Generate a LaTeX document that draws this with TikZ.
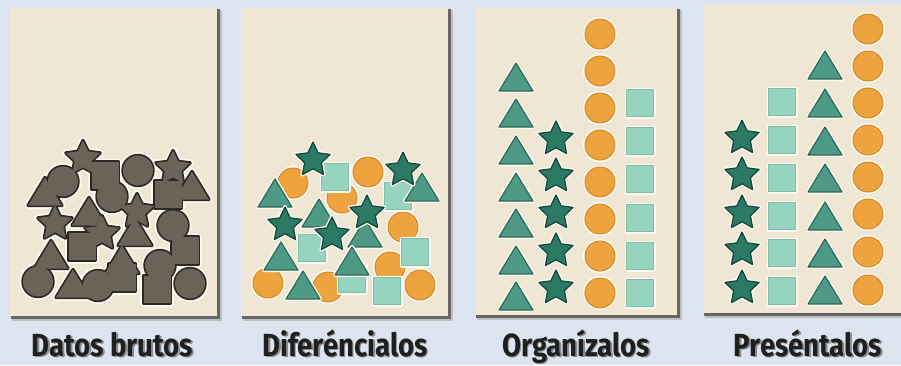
\documentclass[tikz,border=0pt]{standalone}
\usepackage{fontspec}
\newfontfamily\labelfont[FakeStretch=0.86]{Fira Sans}
\definecolor{bgc}{HTML}{DCE5EF}
\definecolor{panelc}{HTML}{EFE6D4}
\definecolor{grayc}{HTML}{6B6258}
\definecolor{grayline}{HTML}{2E2822}
\definecolor{orangec}{HTML}{EDA33E}
\definecolor{orangeline}{HTML}{D2892A}
\definecolor{mintc}{HTML}{97D4BF}
\definecolor{mintline}{HTML}{7DBFA8}
\definecolor{tric}{HTML}{4F9A85}
\definecolor{triline}{HTML}{2C6A58}
\definecolor{starc}{HTML}{2B7A63}
\definecolor{starline}{HTML}{17483A}
\definecolor{haloc}{HTML}{FDFAF2}
\tikzset{
  halo/.style={draw=haloc,line width=4pt,line join=round},
  circsty/.style={fill=orangec,draw=orangeline,line width=1pt},
  sqsty/.style={fill=mintc,draw=mintline,line width=0.8pt},
  tristy/.style={fill=tric,draw=triline,line width=1.2pt,line join=round},
  starsty/.style={fill=starc,draw=starline,line width=1.3pt,line join=round},
  ghalo/.style={draw=haloc,line width=7pt,line join=round},
  gline/.style={draw=grayline,line width=3.4pt,line join=round},
  gfill/.style={fill=grayc,line join=round},
  panelbox/.style={fill=panelc},
  shadowbox/.style={fill=black!60},
  shadowsoft/.style={fill=black!25},
  lbl/.style={font=\labelfont\bfseries\fontsize{32}{34}\selectfont,text=black!88,anchor=base,inner sep=0pt},
  lblshadow/.style={font=\labelfont\bfseries\fontsize{32}{34}\selectfont,text=black!45,anchor=base,inner sep=0pt}
}
\newcommand\dcirc[3]{\path[#1] (#2,#3) circle[radius=15pt];}
\newcommand\dsq[3]{\path[#1] ({#2-13.5},{#3-13.5}) rectangle ({#2+13.5},{#3+13.5});}
\newcommand\dtri[3]{\path[#1] ({#2},{#3-14}) -- ({#2-17},{#3+14}) -- ({#2+17},{#3+14}) -- cycle;}
\newcommand\dstar[3]{\path[#1] (#2,#3) +(-90:18) -- +(-54:8.8) -- +(-18:18) -- +(18:8.8) -- +(54:18) -- +(90:8.8) -- +(126:18) -- +(162:8.8) -- +(198:18) -- +(234:8.8) -- cycle;}
\newcommand\shp[3]{}
\newcommand\one[3]{\csname d#1\endcsname{halo}{#2}{#3}\csname d#1\endcsname{#1sty}{#2}{#3}}
\newcommand\scatter{%
  \shp{circ}{293}{183}\shp{circ}{342}{198}\shp{circ}{368}{172}\shp{circ}{403}{227}%
  \shp{circ}{268}{283}\shp{circ}{328}{287}\shp{circ}{390}{267}\shp{circ}{420}{285}%
  \shp{sq}{335}{177}\shp{sq}{398}{196}\shp{sq}{312}{248}\shp{sq}{415}{252}%
  \shp{sq}{352}{279}\shp{sq}{387}{291}%
  \shp{tri}{275}{193}\shp{tri}{422}{187}\shp{tri}{319}{213}\shp{tri}{365}{233}%
  \shp{tri}{281}{256}\shp{tri}{303}{285}\shp{tri}{352}{261}%
  \shp{star}{313}{160}\shp{star}{403}{170}\shp{star}{285}{225}\shp{star}{367}{213}%
  \shp{star}{332}{235}%
}
\begin{document}
\begin{tikzpicture}[x=1pt,y=-1pt]
\useasboundingbox (0,0) rectangle (901,365);
\clip (0,0) rectangle (901,365);
\fill[bgc] (0,0) rectangle (901,365);
% panels with shadows
\foreach \a/\b/\c/\d in {10/8/217/316,241/8/448/316,475/8/677/315,703/5/910/313}{
  \path[shadowsoft] (\a+2,\b+2) rectangle (\c+4.5,\d+4.5);
  \path[shadowbox] (\a+1,\b+1) rectangle (\c+2.5,\d+2.5);
  \path[panelbox] (\a,\b) rectangle (\c,\d);
}
% panel 1: merged gray shapes
\begin{scope}[xshift=-230pt,yshift=1.5pt]
  \renewcommand\shp[3]{\csname d#1\endcsname{ghalo}{#2}{#3}}\scatter
  \renewcommand\shp[3]{\csname d#1\endcsname{gline}{#2}{#3}}\scatter
  \renewcommand\shp[3]{\csname d#1\endcsname{gfill}{#2}{#3}}\scatter
\end{scope}
% panel 2: coloured scatter
\renewcommand\shp[3]{\one{#1}{#2}{#3}}\scatter
% panel 3: columns
\foreach \y in {77,113,150,187,223,260,296}{\one{tri}{516}{\y}}
\foreach \y in {139,176,213,251,288}{\one{star}{556}{\y}}
\foreach \y in {34,71,108,145,182,219,256,293}{\one{circ}{600}{\y}}
\foreach \y in {103,141,179,218,256,293}{\one{sq}{640}{\y}}
% panel 4: columns
\foreach \y in {138,175,213,250,288}{\one{star}{742}{\y}}
\foreach \y in {102,140,178,216,253,291}{\one{sq}{782}{\y}}
\foreach \y in {65,103,141,178,216,253,290}{\one{tri}{825}{\y}}
\foreach \y in {29,66,103,140,177,214,252,290}{\one{circ}{868}{\y}}
% labels
\foreach \n/\x/\t in {l1/112.5/Datos brutos,l2/345/Diferéncialos,l3/576/Organízalos,l4/808/Preséntalos}{
  \node[lblshadow] (\n s) at (\x+1.6,357.6) {\t};
  \node[lbl] (\n) at (\x,356) {\t};
}
\end{tikzpicture}
\end{document}
